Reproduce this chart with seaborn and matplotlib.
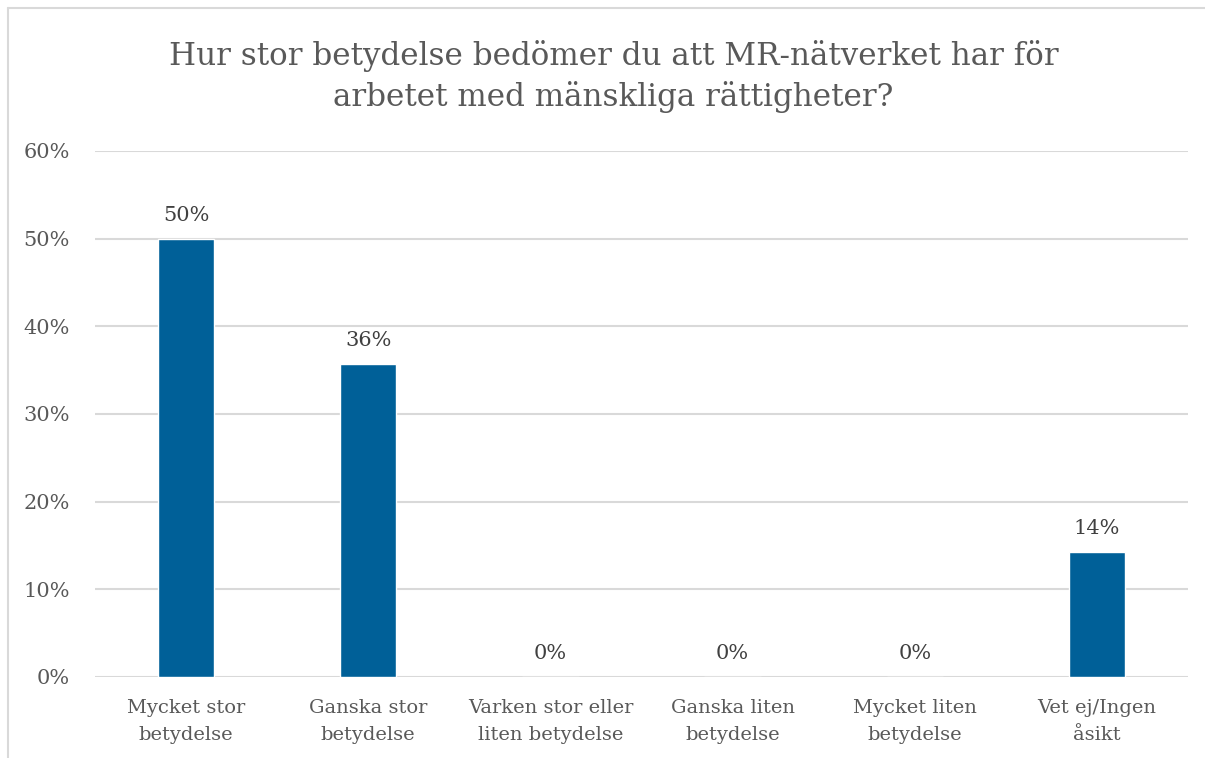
import matplotlib
matplotlib.use('Agg')
import matplotlib.pyplot as plt
import seaborn as sns
import pandas as pd
from matplotlib.ticker import PercentFormatter
from matplotlib.lines import Line2D

categories = ['Mycket stor\nbetydelse', 'Ganska stor\nbetydelse', 'Varken stor eller\nliten betydelse',
              'Ganska liten\nbetydelse', 'Mycket liten\nbetydelse', 'Vet ej/Ingen\nåsikt']
values = [0.50, 0.357, 0.0, 0.0, 0.0, 0.143]
labels = ['50%', '36%', '0%', '0%', '0%', '14%']

df = pd.DataFrame({'Svar': categories, 'Andel': values})

sns.set_style('white')
plt.rcParams['font.family'] = ['DejaVu Serif']
gray = '#595959'

fig = plt.figure(figsize=(12.05, 7.58), dpi=100)
ax = fig.add_axes([0.0788, 0.1069, 0.9072, 0.6939])

sns.barplot(data=df, x='Svar', y='Andel', color='#006098', width=0.31, saturation=1, ax=ax)

for i, (v, t) in enumerate(zip(values, labels)):
    ax.annotate(t, (i, v), xytext=(0, 10), textcoords='offset points',
                ha='center', va='bottom', fontsize=15, color='#404040')

ax.set_ylim(0, 0.6)
ax.set_xlim(-0.5, 5.5)
ax.set_yticks([0, 0.1, 0.2, 0.3, 0.4, 0.5, 0.6])
ax.yaxis.set_major_formatter(PercentFormatter(1.0, decimals=0))
ax.grid(axis='y', color='#D9D9D9', linewidth=1.5)
ax.set_axisbelow(True)
for s in ax.spines.values():
    s.set_visible(False)
ax.tick_params(axis='y', length=0, labelsize=15, colors=gray, pad=18)
ax.tick_params(axis='x', length=0, labelsize=14, colors=gray, pad=16)
for lbl in ax.get_xticklabels():
    lbl.set_linespacing(1.6)
ax.set_xlabel('')
ax.set_ylabel('')

fig.text(0.509, 0.899, 'Hur stor betydelse bedömer du att MR-nätverket har för\narbetet med mänskliga rättigheter?',
         ha='center', va='center', fontsize=22.3, color=gray, linespacing=1.38)

# chart border
fig.add_artist(Line2D([0.0066, 0.0066], [0, 0.9894], color='#D9D9D9', linewidth=1.5, transform=fig.transFigure))
fig.add_artist(Line2D([0.0066, 1], [0.9894, 0.9894], color='#D9D9D9', linewidth=1.5, transform=fig.transFigure))

fig.savefig('out.png', dpi=100)
